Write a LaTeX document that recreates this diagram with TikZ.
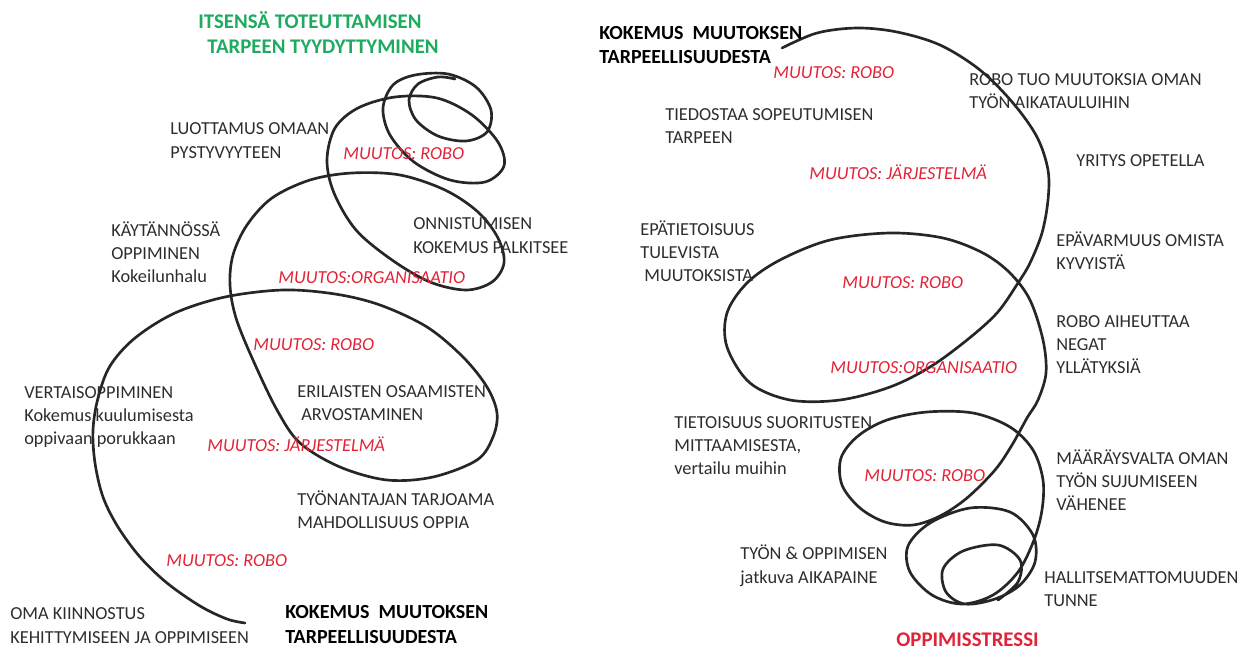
\documentclass[tikz,border=0pt]{standalone}
\usepackage{fontspec}
\setmainfont{Carlito}
\definecolor{txtgray}{RGB}{45,45,45}
\definecolor{chgred}{RGB}{225,35,55}
\definecolor{ttlgreen}{RGB}{30,170,95}
\tikzset{
  lbl/.style={font=\fontsize{11}{13.8}\selectfont, text=txtgray, align=left, anchor=base west, inner sep=0pt},
  chg/.style={font=\fontsize{11}{13.8}\selectfont\itshape, text=chgred, anchor=base west, inner sep=0pt},
  ttl/.style={font=\fontsize{12}{15}\selectfont\bfseries, text=black, align=left, anchor=base west, inner sep=0pt},
  spiral/.style={line width=1.6pt, black!85, line cap=round, smooth, tension=0.55}
}
\begin{document}
\begin{tikzpicture}[x=0.6pt,y=-0.6pt]
\useasboundingbox (0,0) rectangle (1250,649);
% ---------------- left spiral ----------------
\draw[spiral] plot coordinates {
(245,623) (227,619) (200,606) (167,583) (140,557) (118,527) (103,497) (95,463) (93,430) (98,398) (110,366) (135,338) (175,313) (225,297) (283,290) (335,294) (380,305) (427,327) (463,357) (487,387) (497,413) (493,437) (477,460) (433,477) (387,480) (340,467) (300,443) (277,410) (253,360) (236,318) (230,285) (233,255) (247,225) (272,198) (310,180) (352,173) (400,175) (445,190) (478,212) (498,238) (504,263) (492,282) (466,290) (430,282) (392,260) (356,230) (334,193) (327,160) (335,128) (358,108) (395,97) (437,98) (472,115) (498,142) (504,166) (485,182) (450,180) (414,162) (390,135) (383,108) (393,85) (415,75) (448,74) (476,87) (491,110) (487,132) (466,141) (438,136) (416,120) (409,100) (418,84) (438,77) (455,79)};
% ---------------- right spiral ----------------
\draw[spiral] plot coordinates {
(782,48) (817,33) (857,28) (897,32) (940,45) (980,70) (1013,103) (1037,137) (1048,170) (1048,200) (1042,233) (1030,263) (1018,283) (997,313) (967,340) (930,367) (890,387) (840,400) (790,400) (750,383) (727,347) (727,313) (747,283) (780,260) (830,240) (890,233) (943,238) (983,253) (1010,273) (1030,300) (1043,340) (1046,373) (1038,400) (1027,418) (1012,445) (995,470) (967,498) (940,516) (913,525) (885,522) (860,508) (842,485) (841,458) (858,436) (887,420) (927,412) (973,413) (1010,427) (1033,450) (1043,480) (1042,510) (1034,540) (1018,572) (993,595) (962,604) (932,595) (910,572) (908,546) (930,523) (970,508) (1010,512) (1033,535) (1035,562) (1020,585) (995,599) (965,604) (946,592) (943,569) (963,551) (998,545) (1020,560) (1018,582) (998,600)};
% ---------------- left texts (y = baseline of last line) ----------------
\node[ttl, text=ttlgreen, font=\fontsize{12.5}{15}\selectfont\bfseries] (selfreal) at (198,53) {ITSENSÄ TOTEUTTAMISEN\\\hspace*{5.4pt}TARPEEN TYYDYTTYMINEN};
\node[lbl, font=\fontsize{11}{14.4}\selectfont] (trust) at (170,158) {LUOTTAMUS OMAAN\\PYSTYVYYTEEN};
\node[chg] (lrobo1) at (343,159) {MUUTOS: ROBO};
\node[lbl] (practice) at (111,282) {KÄYTÄNNÖSSÄ\\OPPIMINEN\\Kokeilunhalu};
\node[lbl, font=\fontsize{11}{14.4}\selectfont] (success) at (413,253) {ONNISTUMISEN\\KOKEMUS PALKITSEE};
\node[chg] (lorg) at (278,283) {MUUTOS:ORGANISAATIO};
\node[chg] (lrobo2) at (253,350) {MUUTOS: ROBO};
\node[lbl] (peer) at (24,444) {VERTAISOPPIMINEN\\Kokemus kuulumisesta\\oppivaan porukkaan};
\node[lbl] (diverse) at (297,420) {ERILAISTEN OSAAMISTEN\\\hspace*{2.4pt}ARVOSTAMINEN};
\node[chg] (lsys) at (207,451) {MUUTOS: JÄRJESTELMÄ};
\node[lbl] (employer) at (297,528) {TYÖNANTAJAN TARJOAMA\\MAHDOLLISUUS OPPIA};
\node[chg] (lrobo3) at (166,566) {MUUTOS: ROBO};
\node[lbl, font=\fontsize{11}{14.4}\selectfont] (interest) at (10,643) {OMA KIINNOSTUS\\KEHITTYMISEEN JA OPPIMISEEN};
\node[ttl] (lneed) at (285,643) {KOKEMUS\ \ MUUTOKSEN\\TARPEELLISUUDESTA};
% ---------------- right texts ----------------
\node[ttl, font=\fontsize{12}{14.4}\selectfont\bfseries] (rneed) at (599,63) {KOKEMUS\ \ MUUTOKSEN\\TARPEELLISUUDESTA};
\node[chg] (rrobo1) at (773,78) {MUUTOS: ROBO};
\node[lbl] (schedule) at (969,108) {ROBO TUO MUUTOKSIA OMAN\\TYÖN AIKATAULUIHIN};
\node[lbl] (aware) at (665,143) {TIEDOSTAA SOPEUTUMISEN\\TARPEEN};
\node[lbl] (try) at (1076,166) {YRITYS OPETELLA};
\node[chg] (rsys) at (809,179) {MUUTOS: JÄRJESTELMÄ};
\node[lbl] (unaware) at (640,281) {EPÄTIETOISUUS\\TULEVISTA\\\hspace*{2.4pt}MUUTOKSISTA};
\node[lbl] (unsure) at (1056,269) {EPÄVARMUUS OMISTA\\KYVYISTÄ};
\node[chg] (rrobo2) at (842,288) {MUUTOS: ROBO};
\node[lbl] (surprise) at (1056,373) {ROBO AIHEUTTAA\\NEGAT\\YLLÄTYKSIÄ};
\node[chg] (rorg) at (830,373) {MUUTOS:ORGANISAATIO};
\node[lbl] (measure) at (674,474) {TIETOISUUS SUORITUSTEN\\MITTAAMISESTA,\\vertailu muihin};
\node[lbl] (control) at (1056,510) {MÄÄRÄYSVALTA OMAN\\TYÖN SUJUMISEEN\\VÄHENEE};
\node[chg] (rrobo3) at (864,481) {MUUTOS: ROBO};
\node[lbl, font=\fontsize{11}{14.4}\selectfont] (time) at (740,583) {TYÖN \& OPPIMISEN\\jatkuva AIKAPAINE};
\node[lbl] (loss) at (1044,606) {HALLITSEMATTOMUUDEN\\TUNNE};
\node[ttl, text=chgred, font=\fontsize{12.5}{15}\selectfont\bfseries] (stress) at (896,646) {OPPIMISSTRESSI};
\end{tikzpicture}
\end{document}
